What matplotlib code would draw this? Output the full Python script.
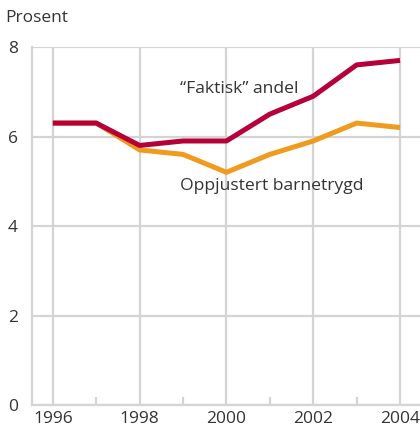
import matplotlib
matplotlib.use('Agg')
import matplotlib.pyplot as plt

# Data
years = [1996, 1997, 1998, 1999, 2000, 2001, 2002, 2003, 2004]
faktisk = [6.3, 6.3, 5.8, 5.9, 5.9, 6.5, 6.9, 7.6, 7.7]
oppjustert = [6.3, 6.3, 5.7, 5.6, 5.2, 5.6, 5.9, 6.3, 6.2]
xticks = [1996, 1998, 2000, 2002, 2004]
yticks = [0, 2, 4, 6, 8]

plt.rcParams['font.family'] = ['Open Sans', 'DejaVu Sans']
txt = '#333333'
grid = '#d4d4d4'

fig = plt.figure(figsize=(4.2, 4.3), dpi=100)
ax = fig.add_axes([0.0762, 0.0581, 0.9238, 0.8326])

ax.plot(years, oppjustert, color='#f09a1e', lw=3.6, solid_capstyle='butt', zorder=3)
ax.plot(years, faktisk, color='#b5003a', lw=3.6, solid_capstyle='butt', zorder=4)

ax.set_xlim(1995.52, 2004.46)
ax.set_ylim(0, 8)
ax.set_xticks(xticks)
ax.set_yticks(yticks)
ax.set_xticks([1997, 1999, 2001, 2003], minor=True)
ax.grid(True, which='major', color=grid, lw=1.6, zorder=1)
ax.tick_params(which='major', length=0, labelsize=12.5, labelcolor=txt)
ax.tick_params(which='minor', direction='in', length=6, width=1.6, color=grid)
ax.tick_params(axis='x', pad=4)
ax.tick_params(axis='y', pad=10)

for s in ['top', 'right']:
    ax.spines[s].set_visible(False)
for s in ['left', 'bottom']:
    ax.spines[s].set_color(grid)
    ax.spines[s].set_linewidth(1.6)

ax.text(2000.29, 7.06, '\u201cFaktisk\u201d andel', fontsize=12.6, color=txt,
        ha='center', va='center')
ax.text(1998.93, 4.89, 'Oppjustert barnetrygd', fontsize=12.6, color=txt,
        ha='left', va='center')
fig.text(5 / 420, 1 - 18 / 430, 'Prosent', fontsize=12.5, color=txt,
         ha='left', va='center')

fig.savefig('out.png', dpi=100)
